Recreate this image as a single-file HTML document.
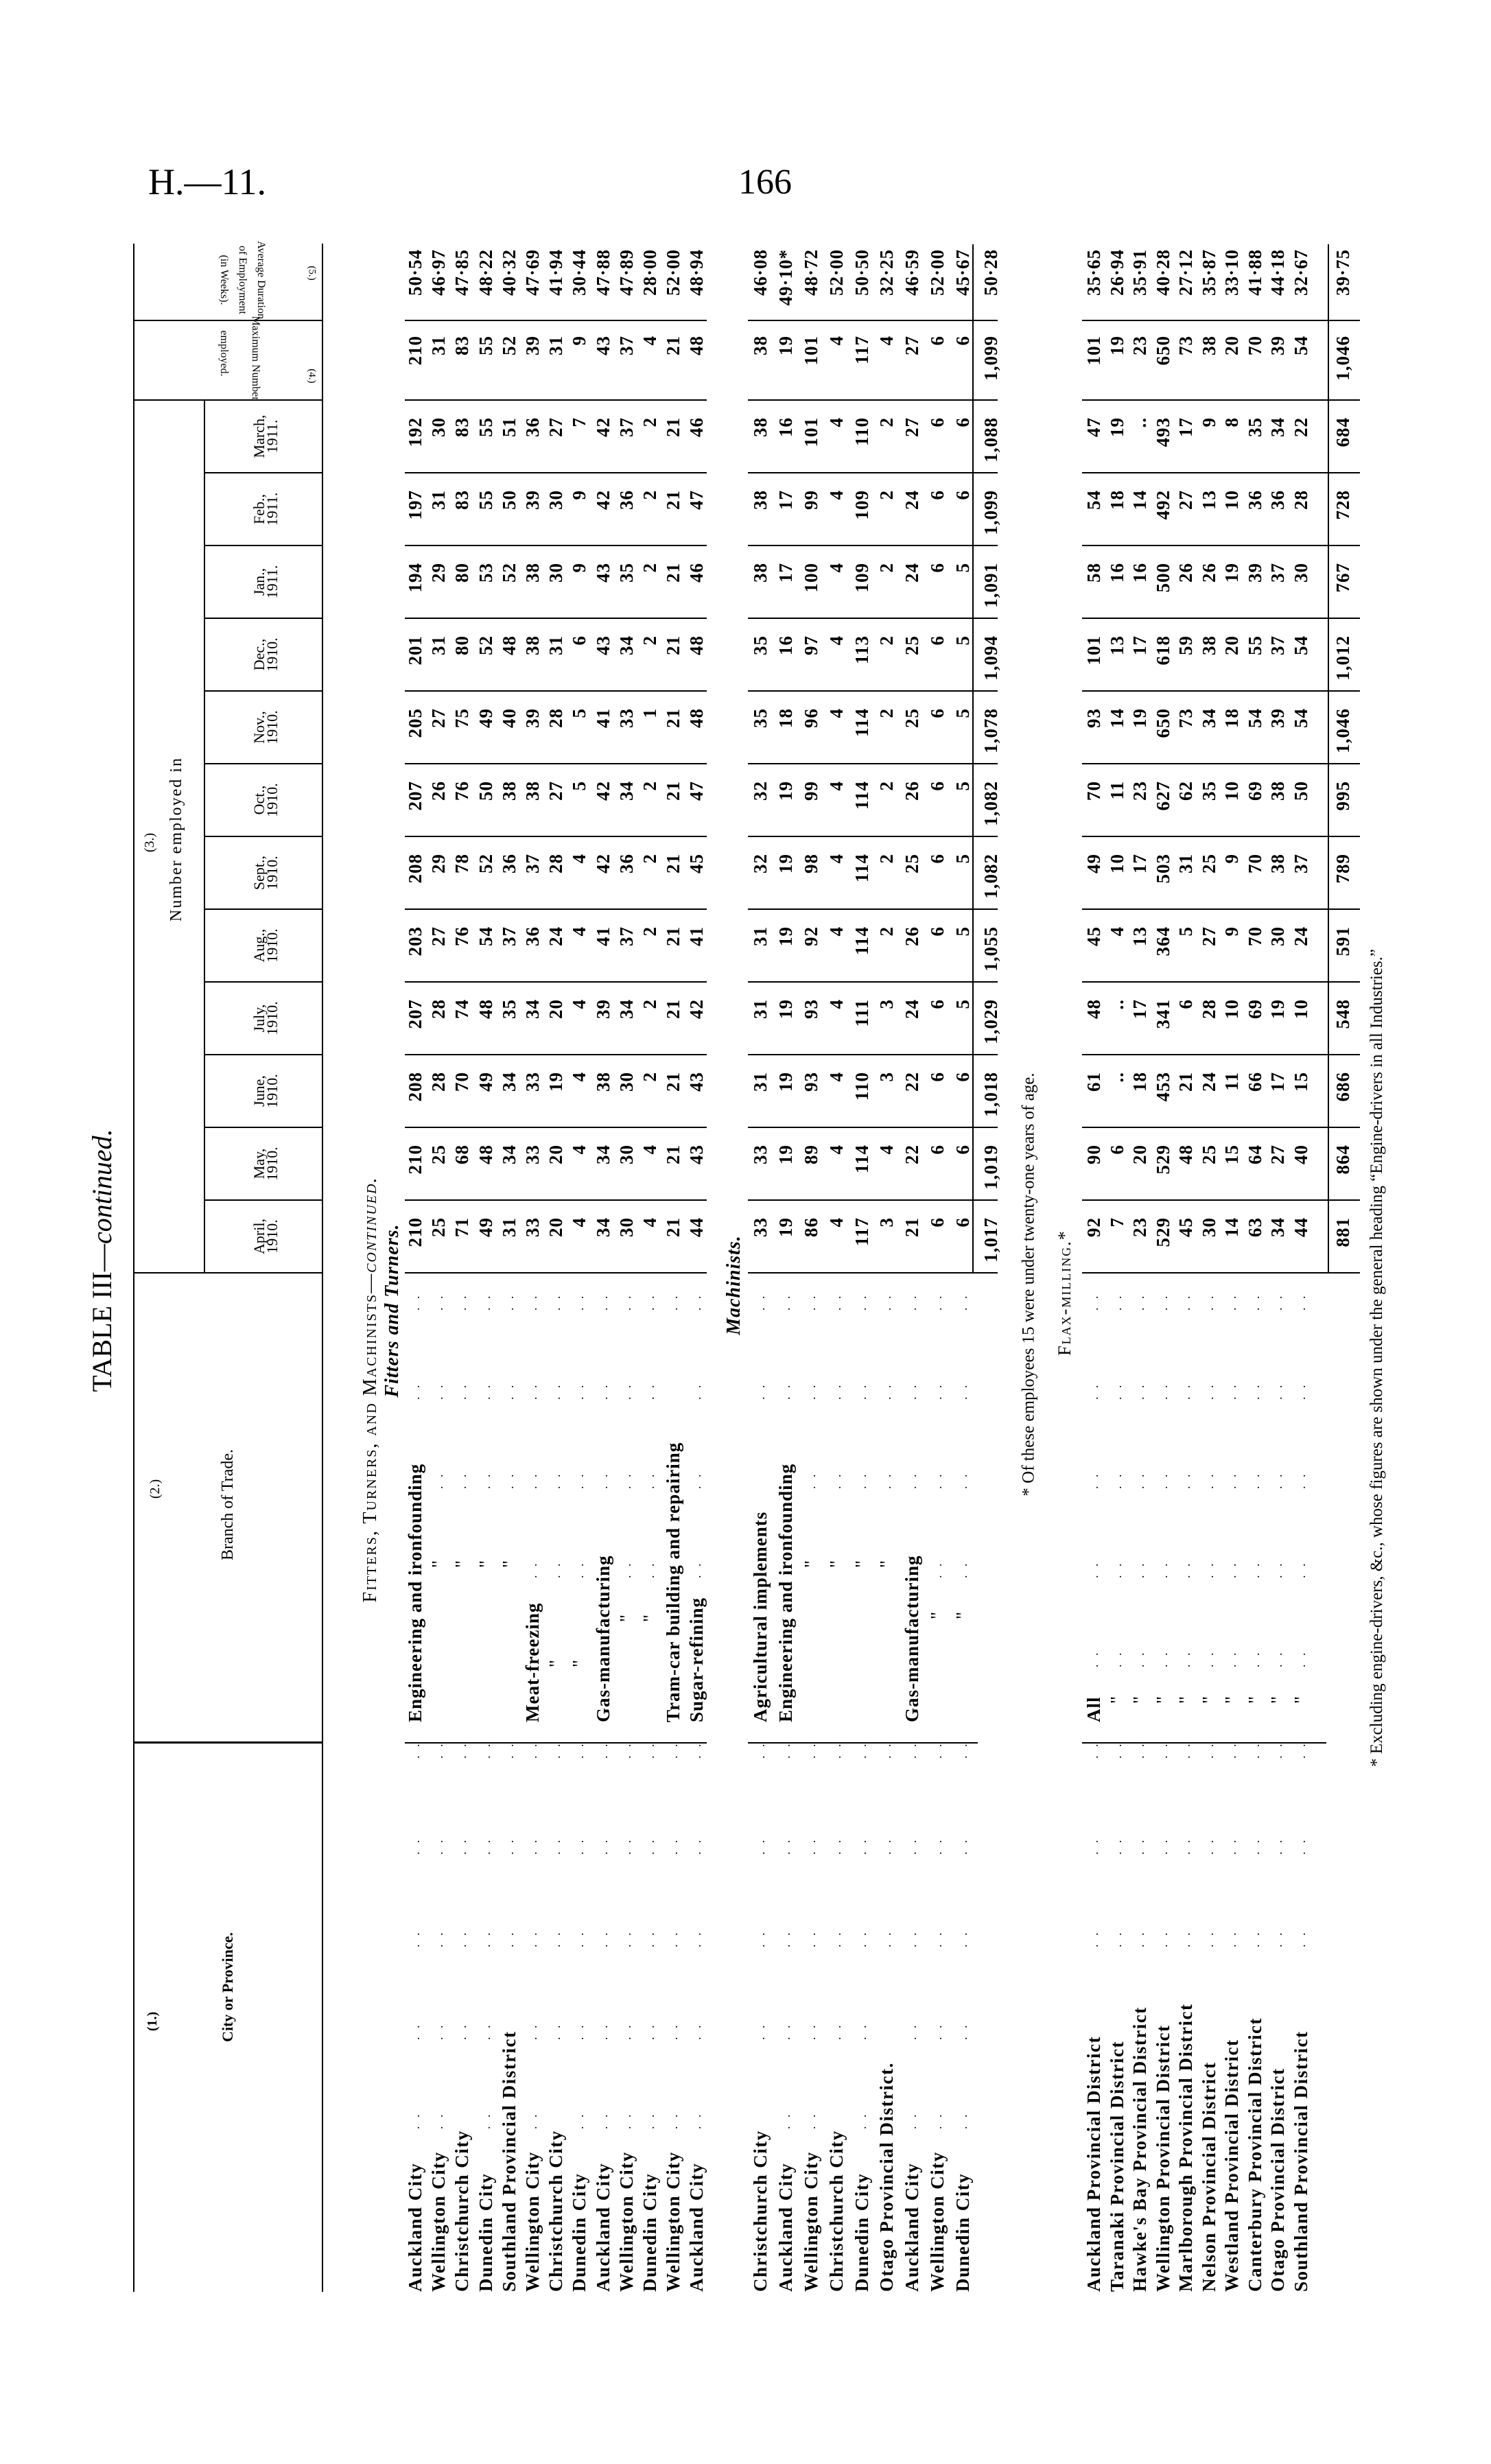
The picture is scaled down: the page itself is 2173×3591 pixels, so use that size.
<!DOCTYPE html>
<html><head><meta charset="utf-8">
<style>
html,body{margin:0;padding:0;background:#fff}
body{width:2173px;height:3591px;position:relative;overflow:hidden;font-family:"Liberation Serif",serif;color:#000}
#L{position:absolute;left:0;top:0;width:3000px;height:1850px;transform-origin:0 0;transform:translate(192px,3340px) rotate(-90deg)}
.t{position:absolute;white-space:nowrap;line-height:1;transform:translate(-50%,-50%)}
.rt{position:absolute;white-space:nowrap;line-height:1;transform:translate(-50%,-50%) rotate(180deg);font-size:16px}
.h{position:absolute;height:2px;background:#000}
.v{position:absolute;width:2px;background:#000}
.r{position:absolute;left:0;height:34px;line-height:34px;white-space:nowrap;font-weight:bold;font-size:27px}
.r span{display:inline-block;vertical-align:top;height:34px}
.r span:nth-of-type(1){width:830px;letter-spacing:1.5px}
.r span:nth-of-type(2){width:655px;letter-spacing:1px}
.r span:nth-of-type(n+3){width:81px;padding-right:25px;text-align:right;letter-spacing:1px}
.r span:nth-of-type(15){width:94px;padding-right:22px}
.r span:nth-of-type(16){width:104px;padding-right:8px}
.r u{position:absolute;top:0;text-decoration:none;font-weight:normal;font-size:18px;letter-spacing:4px}
.r i{font-style:normal;font-weight:normal}
.mh{font-size:22px;text-align:center;line-height:19px}
</style></head><body>
<div style="position:absolute;left:216px;top:238px;font-size:54px;line-height:1">H.—11.</div>
<div style="position:absolute;left:1076px;top:240px;font-size:52px;line-height:1">166</div>

<div id="L">
<div class="t" style="left:1503px;top:-43px;font-size:40px">TABLE III—<i>continued.</i></div>

<!-- header lines -->
<div class="h" style="left:0;top:2px;width:2985px"></div>
<div class="h" style="left:0;top:277px;width:2985px"></div>
<div class="v" style="left:799px;top:2px;height:276px;width:3px"></div>
<div class="v" style="left:1484px;top:2px;height:276px"></div>
<div class="v" style="left:2756px;top:2px;height:276px"></div>
<div class="v" style="left:2872px;top:2px;height:276px"></div>
<div class="h" style="left:1484px;top:105px;width:1272px"></div>
<div class="v" style="left:1590px;top:105px;height:173px"></div>
<div class="v" style="left:1696px;top:105px;height:173px"></div>
<div class="v" style="left:1802px;top:105px;height:173px"></div>
<div class="v" style="left:1908px;top:105px;height:173px"></div>
<div class="v" style="left:2014px;top:105px;height:173px"></div>
<div class="v" style="left:2120px;top:105px;height:173px"></div>
<div class="v" style="left:2226px;top:105px;height:173px"></div>
<div class="v" style="left:2332px;top:105px;height:173px"></div>
<div class="v" style="left:2438px;top:105px;height:173px"></div>
<div class="v" style="left:2544px;top:105px;height:173px"></div>
<div class="v" style="left:2650px;top:105px;height:173px"></div>

<!-- header text -->
<div class="t" style="left:394px;top:30px;font-size:20px;font-weight:bold">(1.)</div>
<div class="t" style="left:444px;top:140px;font-size:22px;font-weight:bold">City or Province.</div>
<div class="t" style="left:1170px;top:34px;font-size:20px">(2.)</div>
<div class="t" style="left:1147px;top:140px;font-size:24px">Branch of Trade.</div>
<div class="t" style="left:2112px;top:26px;font-size:20px">(3.)</div>
<div class="t" style="left:2117px;top:65px;font-size:24px;letter-spacing:2px">Number employed in</div>
<div class="t mh" style="left:1538px;top:195px">April,<br>1910.</div>
<div class="t mh" style="left:1644px;top:195px">May,<br>1910.</div>
<div class="t mh" style="left:1750px;top:195px">June,<br>1910.</div>
<div class="t mh" style="left:1856px;top:195px">July,<br>1910.</div>
<div class="t mh" style="left:1962px;top:195px">Aug.,<br>1910.</div>
<div class="t mh" style="left:2068px;top:195px">Sept.,<br>1910.</div>
<div class="t mh" style="left:2174px;top:195px">Oct.,<br>1910.</div>
<div class="t mh" style="left:2280px;top:195px">Nov.,<br>1910.</div>
<div class="t mh" style="left:2386px;top:195px">Dec.,<br>1910.</div>
<div class="t mh" style="left:2492px;top:195px">Jan.,<br>1911.</div>
<div class="t mh" style="left:2598px;top:195px">Feb.,<br>1911.</div>
<div class="t mh" style="left:2704px;top:195px">March,<br>1911.</div>
<div class="rt" style="left:2818px;top:180px">Maximum Number</div>
<div class="rt" style="left:2825px;top:134px">employed.</div>
<div class="rt" style="left:2792px;top:262px;font-size:15px">(4.)</div>
<div class="rt" style="left:2932px;top:188px">Average Duration</div>
<div class="rt" style="left:2932px;top:161px">of Employment</div>
<div class="rt" style="left:2932px;top:134px">(in Weeks).</div>
<div class="rt" style="left:2942px;top:262px;font-size:15px">(5.)</div>

<!-- section headings -->
<div class="t" style="left:1315px;top:348px;font-size:28px;font-variant:small-caps;letter-spacing:2px">Fitters, Turners, and Machinists—<i>continued.</i></div>
<div class="t" style="left:1430px;top:380px;font-size:28px;font-style:italic;font-weight:bold;letter-spacing:1px">Fitters and Turners.</div>
<div class="t" style="left:1467px;top:878px;font-size:28px;font-style:italic;font-weight:bold;letter-spacing:1px">Machinists.</div>
<div class="t" style="left:1468px;top:1307px;font-size:25px">* Of these employees 15 were under twenty-one years of age.</div>
<div class="t" style="left:1456px;top:1360px;font-size:26px;font-variant:small-caps;letter-spacing:2px">Flax-milling.*</div>
<div style="position:absolute;left:765px;top:1802px;font-size:25px;line-height:26px;white-space:nowrap">* Excluding engine-drivers, &amp;c., whose figures are shown under the general heading “Engine-drivers in all Industries.”</div>

<!-- group column rules -->
<div class="v" style="left:799px;top:398px;height:440px"></div>
<div class="v" style="left:1484px;top:398px;height:440px"></div>
<div class="v" style="left:1590px;top:398px;height:440px"></div>
<div class="v" style="left:1696px;top:398px;height:440px"></div>
<div class="v" style="left:1802px;top:398px;height:440px"></div>
<div class="v" style="left:1908px;top:398px;height:440px"></div>
<div class="v" style="left:2014px;top:398px;height:440px"></div>
<div class="v" style="left:2120px;top:398px;height:440px"></div>
<div class="v" style="left:2226px;top:398px;height:440px"></div>
<div class="v" style="left:2332px;top:398px;height:440px"></div>
<div class="v" style="left:2438px;top:398px;height:440px"></div>
<div class="v" style="left:2544px;top:398px;height:440px"></div>
<div class="v" style="left:2650px;top:398px;height:440px"></div>
<div class="v" style="left:2756px;top:398px;height:440px"></div>
<div class="v" style="left:2872px;top:398px;height:440px"></div>

<div class="v" style="left:799px;top:898px;height:335px"></div>
<div class="v" style="left:1484px;top:898px;height:364px"></div>
<div class="v" style="left:1590px;top:898px;height:364px"></div>
<div class="v" style="left:1696px;top:898px;height:364px"></div>
<div class="v" style="left:1802px;top:898px;height:364px"></div>
<div class="v" style="left:1908px;top:898px;height:364px"></div>
<div class="v" style="left:2014px;top:898px;height:364px"></div>
<div class="v" style="left:2120px;top:898px;height:364px"></div>
<div class="v" style="left:2226px;top:898px;height:364px"></div>
<div class="v" style="left:2332px;top:898px;height:364px"></div>
<div class="v" style="left:2438px;top:898px;height:364px"></div>
<div class="v" style="left:2544px;top:898px;height:364px"></div>
<div class="v" style="left:2650px;top:898px;height:364px"></div>
<div class="v" style="left:2756px;top:898px;height:364px"></div>
<div class="v" style="left:2872px;top:898px;height:364px"></div>
<div class="h" style="left:1484px;top:1225px;width:1500px"></div>

<div class="v" style="left:799px;top:1385px;height:356px"></div>
<div class="v" style="left:1484px;top:1385px;height:405px"></div>
<div class="v" style="left:1590px;top:1385px;height:405px"></div>
<div class="v" style="left:1696px;top:1385px;height:405px"></div>
<div class="v" style="left:1802px;top:1385px;height:405px"></div>
<div class="v" style="left:1908px;top:1385px;height:405px"></div>
<div class="v" style="left:2014px;top:1385px;height:405px"></div>
<div class="v" style="left:2120px;top:1385px;height:405px"></div>
<div class="v" style="left:2226px;top:1385px;height:405px"></div>
<div class="v" style="left:2332px;top:1385px;height:405px"></div>
<div class="v" style="left:2438px;top:1385px;height:405px"></div>
<div class="v" style="left:2544px;top:1385px;height:405px"></div>
<div class="v" style="left:2650px;top:1385px;height:405px"></div>
<div class="v" style="left:2756px;top:1385px;height:405px"></div>
<div class="v" style="left:2872px;top:1385px;height:405px"></div>
<div class="h" style="left:1484px;top:1743px;width:1500px"></div>

<!-- FITTERS rows -->
<div class="r" style="top:396px"><span>Auckland City</span><span>Engineering and ironfounding</span><span>210</span><span>210</span><span>208</span><span>207</span><span>203</span><span>208</span><span>207</span><span>205</span><span>201</span><span>194</span><span>197</span><span>192</span><span>210</span><span>50·54</span><u style="left:237px">. .</u><u style="left:367px">. .</u><u style="left:502px">. .</u><u style="left:637px">. .</u><u style="left:777px">. .</u><u style="left:1300px">. .</u><u style="left:1430px">. .</u></div>
<div class="r" style="top:430px"><span>Wellington City</span><span><i style="padding-left:225px">"</i></span><span>25</span><span>25</span><span>28</span><span>28</span><span>27</span><span>29</span><span>26</span><span>27</span><span>31</span><span>29</span><span>31</span><span>30</span><span>31</span><span>46·97</span><u style="left:237px">. .</u><u style="left:367px">. .</u><u style="left:502px">. .</u><u style="left:637px">. .</u><u style="left:777px">. .</u><u style="left:1170px">. .</u><u style="left:1300px">. .</u><u style="left:1430px">. .</u></div>
<div class="r" style="top:464px"><span>Christchurch City</span><span><i style="padding-left:225px">"</i></span><span>71</span><span>68</span><span>70</span><span>74</span><span>76</span><span>78</span><span>76</span><span>75</span><span>80</span><span>80</span><span>83</span><span>83</span><span>83</span><span>47·85</span><u style="left:367px">. .</u><u style="left:502px">. .</u><u style="left:637px">. .</u><u style="left:777px">. .</u><u style="left:1170px">. .</u><u style="left:1300px">. .</u><u style="left:1430px">. .</u></div>
<div class="r" style="top:499px"><span>Dunedin City</span><span><i style="padding-left:225px">"</i></span><span>49</span><span>48</span><span>49</span><span>48</span><span>54</span><span>52</span><span>50</span><span>49</span><span>52</span><span>53</span><span>55</span><span>55</span><span>55</span><span>48·22</span><u style="left:237px">. .</u><u style="left:367px">. .</u><u style="left:502px">. .</u><u style="left:637px">. .</u><u style="left:777px">. .</u><u style="left:1170px">. .</u><u style="left:1300px">. .</u><u style="left:1430px">. .</u></div>
<div class="r" style="top:533px"><span>Southland Provincial District</span><span><i style="padding-left:225px">"</i></span><span>31</span><span>34</span><span>34</span><span>35</span><span>37</span><span>36</span><span>38</span><span>40</span><span>48</span><span>52</span><span>50</span><span>51</span><span>52</span><span>40·32</span><u style="left:502px">. .</u><u style="left:637px">. .</u><u style="left:777px">. .</u><u style="left:1170px">. .</u><u style="left:1300px">. .</u><u style="left:1430px">. .</u></div>
<div class="r" style="top:567px"><span>Wellington City</span><span>Meat-freezing</span><span>33</span><span>33</span><span>33</span><span>34</span><span>36</span><span>37</span><span>38</span><span>39</span><span>38</span><span>38</span><span>39</span><span>36</span><span>39</span><span>47·69</span><u style="left:237px">. .</u><u style="left:367px">. .</u><u style="left:502px">. .</u><u style="left:637px">. .</u><u style="left:777px">. .</u><u style="left:1040px">. .</u><u style="left:1170px">. .</u><u style="left:1300px">. .</u><u style="left:1430px">. .</u></div>
<div class="r" style="top:601px"><span>Christchurch City</span><span><i style="padding-left:80px">"</i></span><span>20</span><span>20</span><span>19</span><span>20</span><span>24</span><span>28</span><span>27</span><span>28</span><span>31</span><span>30</span><span>30</span><span>27</span><span>31</span><span>41·94</span><u style="left:367px">. .</u><u style="left:502px">. .</u><u style="left:637px">. .</u><u style="left:777px">. .</u><u style="left:1040px">. .</u><u style="left:1170px">. .</u><u style="left:1300px">. .</u><u style="left:1430px">. .</u></div>
<div class="r" style="top:635px"><span>Dunedin City</span><span><i style="padding-left:80px">"</i></span><span>4</span><span>4</span><span>4</span><span>4</span><span>4</span><span>4</span><span>5</span><span>5</span><span>6</span><span>9</span><span>9</span><span>7</span><span>9</span><span>30·44</span><u style="left:237px">. .</u><u style="left:367px">. .</u><u style="left:502px">. .</u><u style="left:637px">. .</u><u style="left:777px">. .</u><u style="left:1040px">. .</u><u style="left:1170px">. .</u><u style="left:1300px">. .</u><u style="left:1430px">. .</u></div>
<div class="r" style="top:670px"><span>Auckland City</span><span>Gas-manufacturing</span><span>34</span><span>34</span><span>38</span><span>39</span><span>41</span><span>42</span><span>42</span><span>41</span><span>43</span><span>43</span><span>42</span><span>42</span><span>43</span><span>47·88</span><u style="left:237px">. .</u><u style="left:367px">. .</u><u style="left:502px">. .</u><u style="left:637px">. .</u><u style="left:777px">. .</u><u style="left:1170px">. .</u><u style="left:1300px">. .</u><u style="left:1430px">. .</u></div>
<div class="r" style="top:704px"><span>Wellington City</span><span><i style="padding-left:146px">"</i></span><span>30</span><span>30</span><span>30</span><span>34</span><span>37</span><span>36</span><span>34</span><span>33</span><span>34</span><span>35</span><span>36</span><span>37</span><span>37</span><span>47·89</span><u style="left:237px">. .</u><u style="left:367px">. .</u><u style="left:502px">. .</u><u style="left:637px">. .</u><u style="left:777px">. .</u><u style="left:1040px">. .</u><u style="left:1170px">. .</u><u style="left:1300px">. .</u><u style="left:1430px">. .</u></div>
<div class="r" style="top:738px"><span>Dunedin City</span><span><i style="padding-left:146px">"</i></span><span>4</span><span>4</span><span>2</span><span>2</span><span>2</span><span>2</span><span>2</span><span>1</span><span>2</span><span>2</span><span>2</span><span>2</span><span>4</span><span>28·00</span><u style="left:237px">. .</u><u style="left:367px">. .</u><u style="left:502px">. .</u><u style="left:637px">. .</u><u style="left:777px">. .</u><u style="left:1040px">. .</u><u style="left:1170px">. .</u><u style="left:1300px">. .</u><u style="left:1430px">. .</u></div>
<div class="r" style="top:772px"><span>Wellington City</span><span>Tram-car building and repairing</span><span>21</span><span>21</span><span>21</span><span>21</span><span>21</span><span>21</span><span>21</span><span>21</span><span>21</span><span>21</span><span>21</span><span>21</span><span>21</span><span>52·00</span><u style="left:237px">. .</u><u style="left:367px">. .</u><u style="left:502px">. .</u><u style="left:637px">. .</u><u style="left:777px">. .</u><u style="left:1430px">. .</u></div>
<div class="r" style="top:806px"><span>Auckland City</span><span>Sugar-refining</span><span>44</span><span>43</span><span>43</span><span>42</span><span>41</span><span>45</span><span>47</span><span>48</span><span>48</span><span>46</span><span>47</span><span>46</span><span>48</span><span>48·94</span><u style="left:237px">. .</u><u style="left:367px">. .</u><u style="left:502px">. .</u><u style="left:637px">. .</u><u style="left:777px">. .</u><u style="left:1040px">. .</u><u style="left:1170px">. .</u><u style="left:1300px">. .</u><u style="left:1430px">. .</u></div>

<!-- MACHINISTS rows -->
<div class="r" style="top:899px"><span>Christchurch City</span><span>Agricultural implements</span><span>33</span><span>33</span><span>31</span><span>31</span><span>31</span><span>32</span><span>32</span><span>35</span><span>35</span><span>38</span><span>38</span><span>38</span><span>38</span><span>46·08</span><u style="left:367px">. .</u><u style="left:502px">. .</u><u style="left:637px">. .</u><u style="left:777px">. .</u><u style="left:1300px">. .</u><u style="left:1430px">. .</u></div>
<div class="r" style="top:936px"><span>Auckland City</span><span>Engineering and ironfounding</span><span>19</span><span>19</span><span>19</span><span>19</span><span>19</span><span>19</span><span>19</span><span>18</span><span>16</span><span>17</span><span>17</span><span>16</span><span>19</span><span>49·10*</span><u style="left:237px">. .</u><u style="left:367px">. .</u><u style="left:502px">. .</u><u style="left:637px">. .</u><u style="left:777px">. .</u><u style="left:1300px">. .</u><u style="left:1430px">. .</u></div>
<div class="r" style="top:973px"><span>Wellington City</span><span><i style="padding-left:225px">"</i></span><span>86</span><span>89</span><span>93</span><span>93</span><span>92</span><span>98</span><span>99</span><span>96</span><span>97</span><span>100</span><span>99</span><span>101</span><span>101</span><span>48·72</span><u style="left:237px">. .</u><u style="left:367px">. .</u><u style="left:502px">. .</u><u style="left:637px">. .</u><u style="left:777px">. .</u><u style="left:1170px">. .</u><u style="left:1300px">. .</u><u style="left:1430px">. .</u></div>
<div class="r" style="top:1010px"><span>Christchurch City</span><span><i style="padding-left:225px">"</i></span><span>4</span><span>4</span><span>4</span><span>4</span><span>4</span><span>4</span><span>4</span><span>4</span><span>4</span><span>4</span><span>4</span><span>4</span><span>4</span><span>52·00</span><u style="left:367px">. .</u><u style="left:502px">. .</u><u style="left:637px">. .</u><u style="left:777px">. .</u><u style="left:1170px">. .</u><u style="left:1300px">. .</u><u style="left:1430px">. .</u></div>
<div class="r" style="top:1047px"><span>Dunedin City</span><span><i style="padding-left:225px">"</i></span><span>117</span><span>114</span><span>110</span><span>111</span><span>114</span><span>114</span><span>114</span><span>114</span><span>113</span><span>109</span><span>109</span><span>110</span><span>117</span><span>50·50</span><u style="left:237px">. .</u><u style="left:367px">. .</u><u style="left:502px">. .</u><u style="left:637px">. .</u><u style="left:777px">. .</u><u style="left:1170px">. .</u><u style="left:1300px">. .</u><u style="left:1430px">. .</u></div>
<div class="r" style="top:1083px"><span>Otago Provincial District.</span><span><i style="padding-left:225px">"</i></span><span>3</span><span>4</span><span>3</span><span>3</span><span>2</span><span>2</span><span>2</span><span>2</span><span>2</span><span>2</span><span>2</span><span>2</span><span>4</span><span>32·25</span><u style="left:502px">. .</u><u style="left:637px">. .</u><u style="left:777px">. .</u><u style="left:1170px">. .</u><u style="left:1300px">. .</u><u style="left:1430px">. .</u></div>
<div class="r" style="top:1120px"><span>Auckland City</span><span>Gas-manufacturing</span><span>21</span><span>22</span><span>22</span><span>24</span><span>26</span><span>25</span><span>26</span><span>25</span><span>25</span><span>24</span><span>24</span><span>27</span><span>27</span><span>46·59</span><u style="left:237px">. .</u><u style="left:367px">. .</u><u style="left:502px">. .</u><u style="left:637px">. .</u><u style="left:777px">. .</u><u style="left:1170px">. .</u><u style="left:1300px">. .</u><u style="left:1430px">. .</u></div>
<div class="r" style="top:1157px"><span>Wellington City</span><span><i style="padding-left:150px">"</i></span><span>6</span><span>6</span><span>6</span><span>6</span><span>6</span><span>6</span><span>6</span><span>6</span><span>6</span><span>6</span><span>6</span><span>6</span><span>6</span><span>52·00</span><u style="left:237px">. .</u><u style="left:367px">. .</u><u style="left:502px">. .</u><u style="left:637px">. .</u><u style="left:777px">. .</u><u style="left:1040px">. .</u><u style="left:1170px">. .</u><u style="left:1300px">. .</u><u style="left:1430px">. .</u></div>
<div class="r" style="top:1194px"><span>Dunedin City</span><span><i style="padding-left:150px">"</i></span><span>6</span><span>6</span><span>6</span><span>5</span><span>5</span><span>5</span><span>5</span><span>5</span><span>5</span><span>5</span><span>6</span><span>6</span><span>6</span><span>45·67</span><u style="left:237px">. .</u><u style="left:367px">. .</u><u style="left:502px">. .</u><u style="left:637px">. .</u><u style="left:777px">. .</u><u style="left:1040px">. .</u><u style="left:1170px">. .</u><u style="left:1300px">. .</u><u style="left:1430px">. .</u></div>
<div class="r" style="top:1235px"><span></span><span></span><span>1,017</span><span>1,019</span><span>1,018</span><span>1,029</span><span>1,055</span><span>1,082</span><span>1,082</span><span>1,078</span><span>1,094</span><span>1,091</span><span>1,099</span><span>1,088</span><span>1,099</span><span>50·28</span></div>

<!-- FLAX rows -->
<div class="r" style="top:1385px"><span>Auckland Provincial District</span><span>All</span><span>92</span><span>90</span><span>61</span><span>48</span><span>45</span><span>49</span><span>70</span><span>93</span><span>101</span><span>58</span><span>54</span><span>47</span><span>101</span><span>35·65</span><u style="left:502px">. .</u><u style="left:637px">. .</u><u style="left:777px">. .</u><u style="left:910px">. .</u><u style="left:1040px">. .</u><u style="left:1170px">. .</u><u style="left:1300px">. .</u><u style="left:1430px">. .</u></div>
<div class="r" style="top:1419px"><span>Taranaki Provincial District</span><span><i style="padding-left:27px">"</i></span><span>7</span><span>6</span><span>..</span><span>..</span><span>4</span><span>10</span><span>11</span><span>14</span><span>13</span><span>16</span><span>18</span><span>19</span><span>19</span><span>26·94</span><u style="left:502px">. .</u><u style="left:637px">. .</u><u style="left:777px">. .</u><u style="left:910px">. .</u><u style="left:1040px">. .</u><u style="left:1170px">. .</u><u style="left:1300px">. .</u><u style="left:1430px">. .</u></div>
<div class="r" style="top:1452px"><span>Hawke's Bay Provincial District</span><span><i style="padding-left:27px">"</i></span><span>23</span><span>20</span><span>18</span><span>17</span><span>13</span><span>17</span><span>23</span><span>19</span><span>17</span><span>16</span><span>14</span><span>..</span><span>23</span><span>35·91</span><u style="left:502px">. .</u><u style="left:637px">. .</u><u style="left:777px">. .</u><u style="left:910px">. .</u><u style="left:1040px">. .</u><u style="left:1170px">. .</u><u style="left:1300px">. .</u><u style="left:1430px">. .</u></div>
<div class="r" style="top:1486px"><span>Wellington Provincial District</span><span><i style="padding-left:27px">"</i></span><span>529</span><span>529</span><span>453</span><span>341</span><span>364</span><span>503</span><span>627</span><span>650</span><span>618</span><span>500</span><span>492</span><span>493</span><span>650</span><span>40·28</span><u style="left:502px">. .</u><u style="left:637px">. .</u><u style="left:777px">. .</u><u style="left:910px">. .</u><u style="left:1040px">. .</u><u style="left:1170px">. .</u><u style="left:1300px">. .</u><u style="left:1430px">. .</u></div>
<div class="r" style="top:1519px"><span>Marlborough Provincial District</span><span><i style="padding-left:27px">"</i></span><span>45</span><span>48</span><span>21</span><span>6</span><span>5</span><span>31</span><span>62</span><span>73</span><span>59</span><span>26</span><span>27</span><span>17</span><span>73</span><span>27·12</span><u style="left:502px">. .</u><u style="left:637px">. .</u><u style="left:777px">. .</u><u style="left:910px">. .</u><u style="left:1040px">. .</u><u style="left:1170px">. .</u><u style="left:1300px">. .</u><u style="left:1430px">. .</u></div>
<div class="r" style="top:1553px"><span>Nelson Provincial District</span><span><i style="padding-left:27px">"</i></span><span>30</span><span>25</span><span>24</span><span>28</span><span>27</span><span>25</span><span>35</span><span>34</span><span>38</span><span>26</span><span>13</span><span>9</span><span>38</span><span>35·87</span><u style="left:502px">. .</u><u style="left:637px">. .</u><u style="left:777px">. .</u><u style="left:910px">. .</u><u style="left:1040px">. .</u><u style="left:1170px">. .</u><u style="left:1300px">. .</u><u style="left:1430px">. .</u></div>
<div class="r" style="top:1586px"><span>Westland Provincial District</span><span><i style="padding-left:27px">"</i></span><span>14</span><span>15</span><span>11</span><span>10</span><span>9</span><span>9</span><span>10</span><span>18</span><span>20</span><span>19</span><span>10</span><span>8</span><span>20</span><span>33·10</span><u style="left:502px">. .</u><u style="left:637px">. .</u><u style="left:777px">. .</u><u style="left:910px">. .</u><u style="left:1040px">. .</u><u style="left:1170px">. .</u><u style="left:1300px">. .</u><u style="left:1430px">. .</u></div>
<div class="r" style="top:1620px"><span>Canterbury Provincial District</span><span><i style="padding-left:27px">"</i></span><span>63</span><span>64</span><span>66</span><span>69</span><span>70</span><span>70</span><span>69</span><span>54</span><span>55</span><span>39</span><span>36</span><span>35</span><span>70</span><span>41·88</span><u style="left:502px">. .</u><u style="left:637px">. .</u><u style="left:777px">. .</u><u style="left:910px">. .</u><u style="left:1040px">. .</u><u style="left:1170px">. .</u><u style="left:1300px">. .</u><u style="left:1430px">. .</u></div>
<div class="r" style="top:1653px"><span>Otago Provincial District</span><span><i style="padding-left:27px">"</i></span><span>34</span><span>27</span><span>17</span><span>19</span><span>30</span><span>38</span><span>38</span><span>39</span><span>37</span><span>37</span><span>36</span><span>34</span><span>39</span><span>44·18</span><u style="left:502px">. .</u><u style="left:637px">. .</u><u style="left:777px">. .</u><u style="left:910px">. .</u><u style="left:1040px">. .</u><u style="left:1170px">. .</u><u style="left:1300px">. .</u><u style="left:1430px">. .</u></div>
<div class="r" style="top:1687px"><span>Southland Provincial District</span><span><i style="padding-left:27px">"</i></span><span>44</span><span>40</span><span>15</span><span>10</span><span>24</span><span>37</span><span>50</span><span>54</span><span>54</span><span>30</span><span>28</span><span>22</span><span>54</span><span>32·67</span><u style="left:502px">. .</u><u style="left:637px">. .</u><u style="left:777px">. .</u><u style="left:910px">. .</u><u style="left:1040px">. .</u><u style="left:1170px">. .</u><u style="left:1300px">. .</u><u style="left:1430px">. .</u></div>
<div class="r" style="top:1748px"><span></span><span></span><span>881</span><span>864</span><span>686</span><span>548</span><span>591</span><span>789</span><span>995</span><span>1,046</span><span>1,012</span><span>767</span><span>728</span><span>684</span><span>1,046</span><span>39·75</span></div>
</div>
</body></html>
